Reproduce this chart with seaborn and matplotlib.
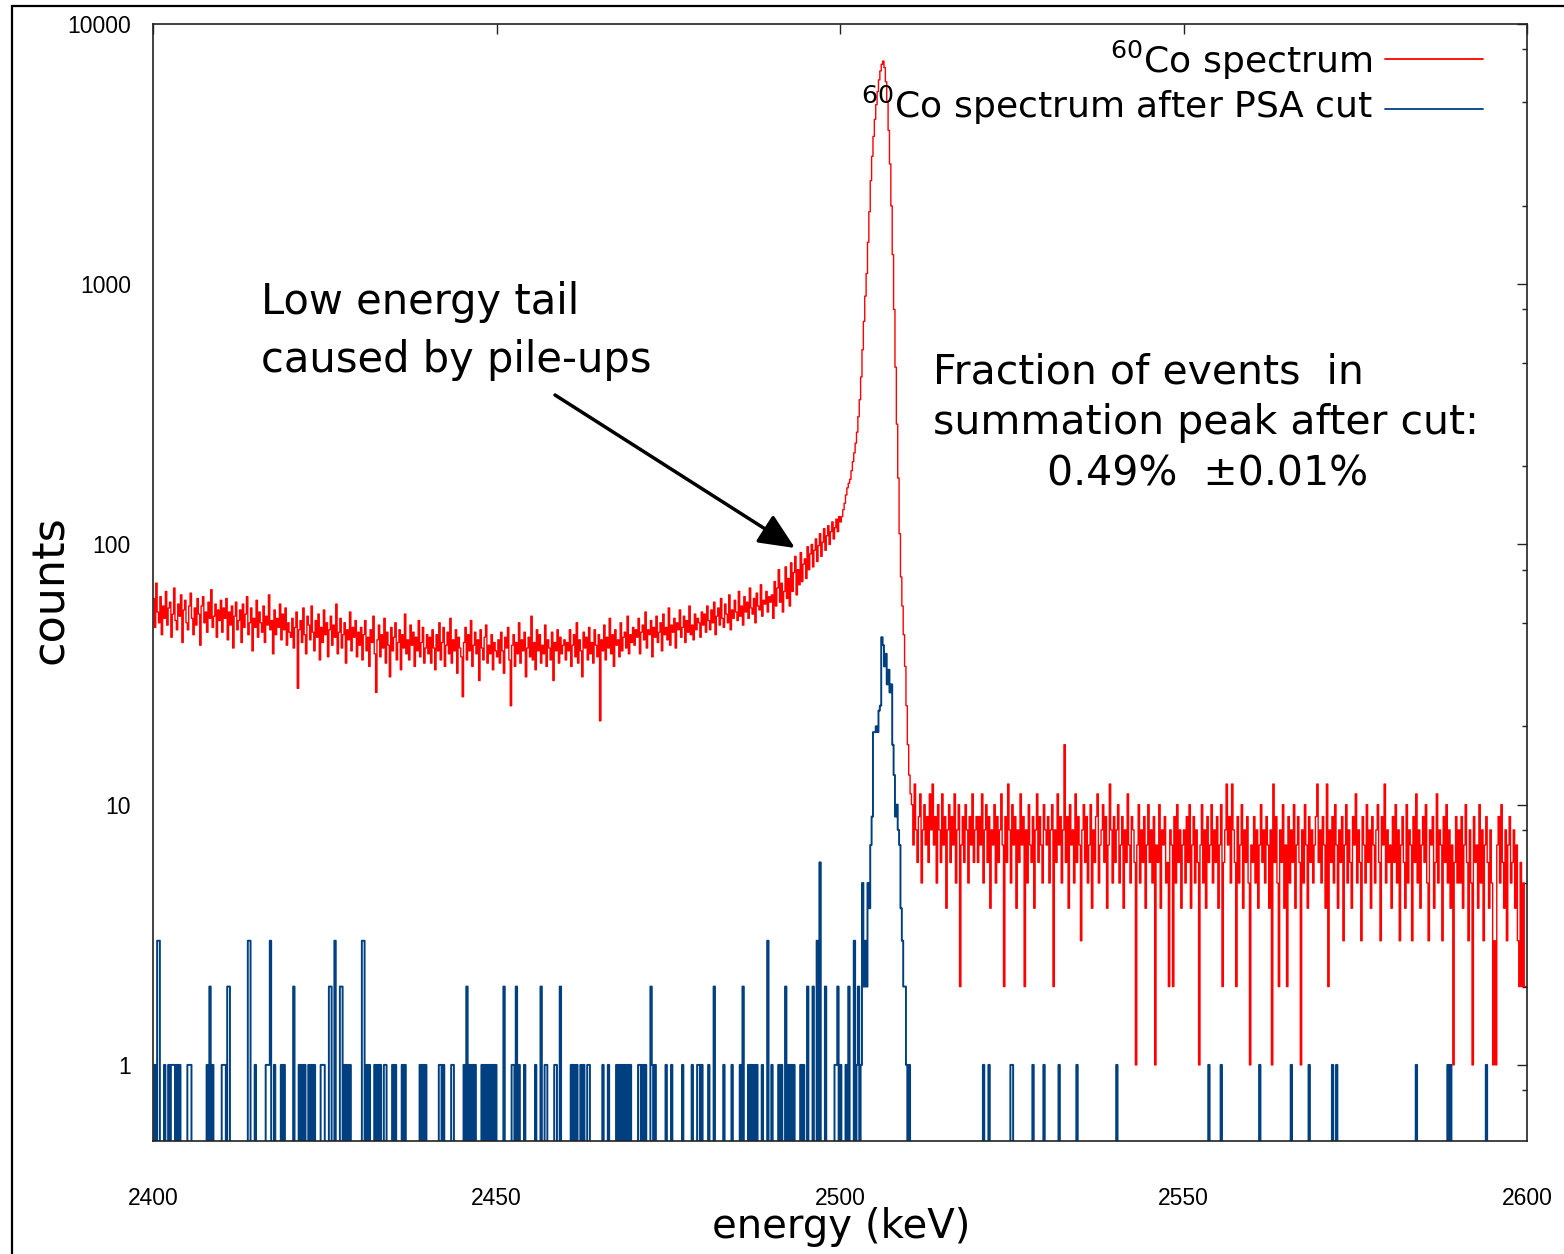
import numpy as np
import pandas as pd
import matplotlib
matplotlib.use("Agg")
import matplotlib.pyplot as plt
from matplotlib.lines import Line2D
from matplotlib.patches import Rectangle
from matplotlib.ticker import FixedLocator, LogLocator, NullFormatter
import seaborn as sns

# ---------------- data ----------------
energy_min = 2400.0
energy_max = 2600.0

# 60Co spectrum, counts per 0.2 keV bin, 2400 -> 2600 keV (1000 bins)
red_counts = [
    # 2400 - 2490
    62, 48, 71, 55, 50, 63, 45, 58, 52, 66, 49, 57, 60, 44, 54, 68, 51, 47, 59, 53, 64, 42, 56, 61, 50, 47, 58, 65, 52, 45, 57, 49, 62, 54, 41, 58, 63, 50, 55, 46, 60, 52, 67, 48, 53, 59, 44, 56, 51, 61,
    46, 57, 52, 62, 43, 55, 49, 58, 40, 53, 60, 47, 51, 56, 42, 59, 48, 54, 63, 45, 50, 57, 39, 52, 48, 61, 44, 55, 50, 46, 58, 42, 53, 49, 64, 47, 51, 38, 56, 45, 52, 48, 59, 43, 54, 47, 57, 41, 50, 46,
    44, 52, 40, 48, 55, 28, 47, 51, 42, 57, 45, 38, 53, 49, 43, 58, 46, 39, 51, 44, 54, 36, 48, 42, 56, 45, 50, 37, 47, 53, 41, 49, 44, 59, 38, 46, 52, 40, 45, 50, 35, 47, 43, 55, 39, 48, 44, 51, 37, 46,
    41, 48, 36, 45, 51, 39, 44, 34, 47, 42, 53, 38, 27, 43, 49, 37, 45, 40, 52, 35, 46, 41, 31, 48, 39, 44, 50, 36, 42, 47, 33, 45, 40, 54, 38, 43, 36, 49, 41, 46, 34, 44, 39, 51, 37, 42, 48, 35, 40, 45,
    38, 44, 35, 47, 40, 33, 45, 39, 50, 36, 42, 48, 34, 41, 46, 38, 52, 35, 43, 39, 47, 32, 44, 40, 37, 26, 42, 48, 36, 45, 39, 51, 34, 41, 46, 38, 43, 30, 47, 40, 36, 44, 49, 35, 41, 38, 45, 33, 42, 39,
    37, 43, 35, 46, 39, 32, 44, 40, 48, 36, 24, 41, 45, 34, 42, 38, 50, 35, 43, 39, 46, 31, 40, 44, 37, 53, 36, 42, 33, 47, 39, 45, 35, 41, 38, 49, 34, 43, 40, 36, 46, 30, 42, 39, 47, 35, 44, 38, 41, 43,
    36, 42, 39, 47, 34, 41, 45, 37, 50, 35, 43, 39, 31, 46, 40, 44, 36, 48, 38, 42, 35, 47, 41, 37, 45, 21, 43, 39, 49, 36, 44, 40, 52, 38, 45, 34, 47, 41, 43, 37, 50, 39, 44, 46, 40, 53, 38, 45, 42, 48,
    41, 47, 44, 52, 38, 46, 49, 43, 55, 40, 47, 45, 51, 37, 48, 44, 53, 42, 46, 50, 39, 54, 45, 48, 43, 57, 41, 49, 46, 52, 40, 50, 47, 56, 44, 48, 53, 42, 51, 46, 58, 45, 49, 43, 54, 47, 52, 50, 44, 55,
    49, 54, 46, 58, 51, 47, 56, 50, 60, 45, 53, 57, 49, 62, 52, 48, 59, 54, 50, 64, 47, 56, 52, 61, 55, 51, 66, 53, 58, 49, 63, 55, 60, 52, 68, 57, 54, 62, 50, 65, 58, 56, 70, 53, 61, 59, 66, 55, 63, 60,
    # 2490 - 2500 (low energy tail)
    64, 52, 72, 58, 68, 80, 60, 71, 55, 66, 82, 62, 74, 58, 85, 66, 78, 90, 64, 80, 70, 93, 72, 84, 88, 74, 98, 80, 92, 100, 82, 95, 105, 86, 99, 110, 90, 102, 115, 95, 108, 118, 100, 112, 122, 105, 116, 125, 112, 128,
    # 2500 - 2510.4 (summation peak)
    122, 128, 136, 144, 155, 165, 172, 178, 192, 208, 225, 245, 270, 310, 360, 440, 560, 720, 900, 1100,
    1450, 1900, 2500, 3100, 3700, 4300, 4900, 5500, 6100, 6600, 7000, 7200, 6800, 6000, 5000, 3900, 2900, 2000, 1300, 800,
    480, 290, 180, 110, 75, 58, 45, 34, 24, 17, 13, 11,
    # 2510.4 - 2600
    10, 7, 12, 8, 6, 9, 11, 5, 8, 10, 7, 9, 6, 11, 8, 12, 7, 9, 5, 10, 8, 6, 11, 7, 9, 4, 8, 10, 6, 9, 7, 11, 5, 8, 10, 2, 7, 9, 6, 10, 8, 5, 9, 7, 11, 6, 8, 9,
    6, 9, 7, 11, 5, 8, 10, 6, 9, 4, 8, 7, 10, 5, 9, 6, 8, 11, 7, 2, 9, 6, 12, 8, 5, 10, 7, 9, 4, 8, 6, 11, 7, 9, 2, 8, 5, 10, 7, 6, 9, 4, 8, 11, 6, 9, 7, 5, 10, 8,
    7, 9, 5, 8, 10, 2, 8, 6, 11, 7, 9, 5, 8, 17, 6, 9, 4, 10, 7, 8, 5, 11, 6, 9, 7, 3, 8, 10, 6, 9, 5, 7, 10, 4, 8, 6, 9, 11, 5, 7, 8, 10, 6, 9, 4, 7, 12, 8, 5, 9,
    6, 8, 10, 5, 7, 9, 4, 8, 6, 11, 7, 5, 9, 8, 6, 1, 7, 10, 5, 8, 6, 9, 4, 7, 10, 6, 8, 5, 9, 1, 7, 6, 10, 4, 8, 7, 9, 5, 6, 2, 8, 7, 2, 9, 5, 10, 6, 8, 4, 7,
    8, 5, 9, 6, 10, 4, 7, 9, 5, 8, 6, 1, 7, 10, 5, 8, 4, 9, 6, 7, 10, 5, 8, 6, 9, 4, 7, 10, 2, 6, 8, 12, 7, 9, 5, 12, 8, 6, 2, 9, 5, 7, 10, 4, 8, 6, 9, 5, 1, 7,
    6, 9, 5, 8, 4, 7, 10, 6, 8, 5, 9, 7, 4, 8, 1, 12, 6, 9, 5, 2, 8, 6, 10, 4, 7, 2, 9, 5, 8, 6, 10, 4, 7, 9, 6, 1, 8, 5, 10, 7, 4, 9, 6, 8, 5, 7, 9, 12, 6, 8,
    5, 9, 7, 4, 12, 2, 8, 6, 9, 5, 10, 7, 4, 8, 6, 9, 3, 7, 10, 5, 8, 6, 4, 9, 7, 11, 5, 8, 6, 3, 9, 7, 5, 10, 6, 8, 4, 9, 7, 5, 8, 10, 6, 3, 9, 7, 12, 5, 8, 6,
    7, 4, 9, 6, 10, 5, 8, 3, 7, 9, 6, 4, 10, 5, 8, 7, 3, 9, 6, 11, 5, 8, 4, 7, 9, 6, 10, 5, 3, 8, 7, 9, 4, 6, 11, 5, 8, 7, 3, 9, 6, 10, 5, 8, 4, 7, 1, 6, 9, 5,
    8, 5, 9, 4, 7, 10, 6, 3, 8, 5, 1, 9, 6, 7, 4, 10, 5, 8, 3, 7, 9, 6, 4, 8, 5, 1, 3, 1, 7, 9, 5, 10, 6, 4, 8, 3, 7, 9, 5, 6, 8, 4, 7, 3, 2, 6, 2, 5, 2, 2,
]

# 60Co spectrum after PSA cut: non-empty 0.2 keV bins {bin index: counts}, all others are 0
blue_counts_by_bin = {
    1: 1, 3: 3, 4: 3, 8: 1, 11: 1, 13: 1, 14: 1, 15: 1, 17: 1, 19: 1, 25: 1, 26: 1, 27: 1,
    39: 1, 41: 2, 43: 1, 50: 1, 51: 1, 52: 1, 54: 2, 55: 2, 69: 3, 70: 3, 74: 1, 82: 1, 83: 1,
    84: 1, 85: 3, 88: 1, 93: 1, 95: 1, 102: 2, 106: 1, 108: 1, 110: 1, 113: 1, 115: 1, 117: 1,
    122: 1, 123: 1, 124: 1, 128: 2, 129: 2, 132: 3, 136: 2, 137: 2, 139: 1, 141: 1, 143: 1,
    152: 3, 153: 3, 155: 1, 157: 1, 161: 1, 163: 1, 165: 1, 168: 1, 169: 1, 174: 1, 176: 1,
    181: 1, 183: 1, 194: 1, 196: 1, 198: 1, 208: 1, 209: 1, 211: 1, 217: 1, 218: 1, 226: 1,
    228: 2, 230: 1, 232: 1, 234: 1, 239: 1, 241: 1, 243: 1, 245: 1, 247: 1, 249: 1, 255: 2,
    261: 1, 262: 1, 264: 2, 266: 1, 270: 1, 278: 1, 282: 2, 285: 1, 286: 1, 292: 1, 293: 1,
    296: 2, 304: 1, 306: 1, 308: 1, 311: 1, 313: 1, 316: 1, 317: 1, 327: 1, 331: 1, 337: 1,
    339: 1, 341: 1, 343: 1, 345: 1, 347: 1, 353: 1, 354: 1, 356: 1, 358: 1, 362: 2, 363: 1,
    365: 1, 373: 1, 377: 1, 385: 1, 392: 1, 396: 1, 397: 1, 399: 1, 404: 1, 408: 2, 415: 1,
    421: 1, 427: 1, 429: 2, 433: 1, 435: 1, 437: 1, 439: 1, 443: 1, 447: 3, 450: 1, 455: 1,
    457: 1, 460: 2, 462: 1, 464: 1, 466: 1, 471: 1, 473: 1, 476: 2, 480: 2, 483: 3, 485: 6,
    489: 2, 496: 1, 497: 1, 498: 2, 500: 1, 504: 1, 506: 2, 510: 3, 512: 1, 513: 2, 515: 1,
    516: 5, 517: 2, 518: 3, 519: 2, 520: 5, 521: 4, 522: 7, 523: 9, 524: 19, 525: 19, 526: 20,
    527: 19, 528: 23, 529: 24, 530: 44, 531: 41, 532: 34, 533: 38, 534: 29, 535: 33, 536: 27,
    537: 29, 538: 17, 539: 13, 540: 9, 541: 10, 542: 8, 543: 7, 544: 4, 545: 3, 546: 2, 547: 2,
    548: 1, 550: 1,
    604: 1, 608: 1, 624: 1, 625: 1, 640: 1, 648: 1, 659: 1, 672: 1, 701: 1, 768: 1, 777: 1,
    805: 1, 828: 1, 841: 1, 858: 1, 861: 1, 919: 1, 942: 1, 944: 1, 970: 1,
}

series_labels = [r"$^{60}$Co spectrum", r"$^{60}$Co spectrum after PSA cut"]
x_ticks = [2400, 2450, 2500, 2550, 2600]
x_tick_labels = ["2400", "2450", "2500", "2550", "2600"]
y_ticks = [1, 10, 100, 1000, 10000]
y_tick_labels = ["1", "10", "100", "1000", "10000"]

# ---------------- build tables ----------------
n_bins = len(red_counts)
edges = np.linspace(energy_min, energy_max, n_bins + 1)
blue_counts = np.zeros(n_bins)
for b, c in blue_counts_by_bin.items():
    blue_counts[b] = c

red_df = pd.DataFrame({"energy": edges, "counts": np.append(red_counts, red_counts[-1])})
blue_df = pd.DataFrame({"energy": edges, "counts": np.append(blue_counts, blue_counts[-1])})

# ---------------- style ----------------
sns.set_style("white")
plt.rcParams["font.family"] = ["DejaVu Sans"]
plt.rcParams["mathtext.fontset"] = "dejavusans"
plt.rcParams["text.color"] = "black"
plt.rcParams["axes.labelcolor"] = "black"
plt.rcParams["xtick.color"] = "black"
plt.rcParams["ytick.color"] = "black"

W, H = 1564, 1254
fig = plt.figure(figsize=(W / 100, H / 100), dpi=100)
fig.patch.set_facecolor("white")


def fx(px):
    return px / W


def fy(py):
    return 1 - py / H


ax = fig.add_axes([fx(153), fy(1141), (1527 - 153) / W, (1141 - 24) / H])

RED = "#ff0000"
BLUE = "#004080"

sns.lineplot(data=red_df, x="energy", y="counts", drawstyle="steps-post", color=RED,
             linewidth=1.0, estimator=None, sort=False, legend=False, ax=ax)
sns.lineplot(data=blue_df, x="energy", y="counts", drawstyle="steps-post", color=BLUE,
             linewidth=1.4, estimator=None, sort=False, legend=False, ax=ax)
if ax.get_legend() is not None:
    ax.get_legend().remove()

ax.set_yscale("log", nonpositive="clip")
ax.set_xlim(energy_min, energy_max)
ax.set_ylim(0.51, 10000)

ax.xaxis.set_major_locator(FixedLocator(x_ticks))
ax.set_xticklabels(x_tick_labels)
ax.yaxis.set_major_locator(FixedLocator(y_ticks))
ax.set_yticklabels(y_tick_labels)
ax.yaxis.set_minor_locator(LogLocator(base=10, subs=[2, 5, 8]))
ax.yaxis.set_minor_formatter(NullFormatter())
ax.xaxis.set_minor_locator(FixedLocator([]))

ax.tick_params(which="both", direction="in", top=True, right=True, color="#222222", width=1.0)
ax.tick_params(which="major", length=7.5)
ax.tick_params(which="minor", length=3.5)
ax.tick_params(axis="x", which="major", pad=33, labelsize=16.5, labelcolor="black")
ax.tick_params(axis="y", which="major", pad=16, labelsize=16.5, labelcolor="black")
for lab in ax.get_xticklabels() + ax.get_yticklabels():
    lab.set_fontfamily(["Liberation Sans", "DejaVu Sans"])
for sp in ax.spines.values():
    sp.set_color("#222222")
    sp.set_linewidth(1.2)
ax.set_xlabel("")
ax.set_ylabel("")

# axis titles
fig.text(fx(841), fy(1227), "energy (keV)", fontsize=29, ha="center", va="center", color="black")
fig.text(fx(50), fy(590), "counts", fontsize=32, ha="center", va="center", rotation=90, color="black")

# legend (text right-aligned, sample line to the right)
fig.text(fx(1372), fy(73), series_labels[0], fontsize=26, ha="right", va="baseline", color="black")
fig.text(fx(1372), fy(118), series_labels[1], fontsize=26, ha="right", va="baseline", color="black")
fig.add_artist(Line2D([fx(1385), fx(1483)], [fy(59), fy(59)], color=RED, lw=1.3,
                      transform=fig.transFigure))
fig.add_artist(Line2D([fx(1385), fx(1483)], [fy(109), fy(109)], color=BLUE, lw=1.3,
                      transform=fig.transFigure))

# annotations
fig.text(fx(261), fy(314), "Low energy tail", fontsize=30, ha="left", va="baseline", color="black")
fig.text(fx(261), fy(372), "caused by pile-ups", fontsize=30, ha="left", va="baseline", color="black")
ax.annotate("", xy=(fx(795), fy(548)), xytext=(fx(555), fy(395)),
            xycoords="figure fraction", textcoords="figure fraction",
            arrowprops=dict(arrowstyle="-|>,head_length=1.0,head_width=0.45",
                            lw=2.5, color="black", mutation_scale=22,
                            shrinkA=0, shrinkB=0))

fig.text(fx(933), fy(383), "Fraction of events  in", fontsize=29.5, ha="left", va="baseline", color="black")
fig.text(fx(933), fy(434), "summation peak after cut:", fontsize=29.5, ha="left", va="baseline", color="black")
fig.text(fx(1208), fy(485), "0.49%  \u00b10.01%", fontsize=29.5, ha="center", va="baseline", color="black")

# outer frame of the picture
fig.add_artist(Rectangle((fx(12), -0.02), 1.1, fy(6) + 0.02, transform=fig.transFigure,
                         fill=False, lw=1.6, edgecolor="black"))

fig.savefig("out.png", dpi=100, facecolor="white")
